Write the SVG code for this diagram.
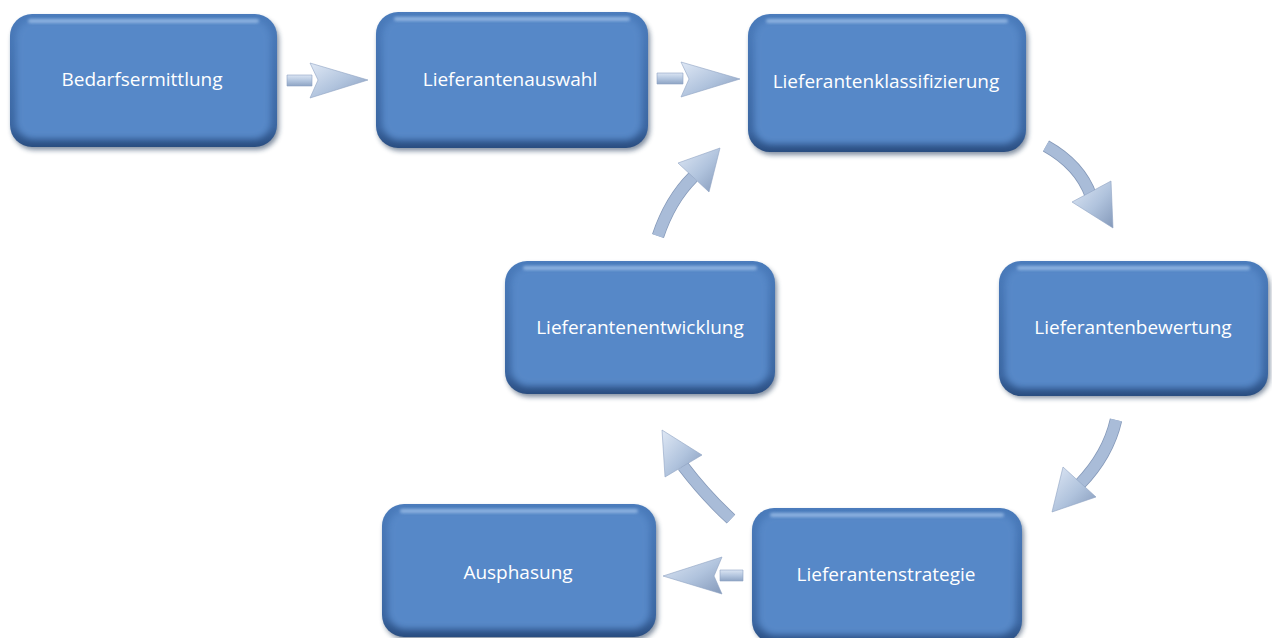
<svg xmlns="http://www.w3.org/2000/svg" width="1272" height="638" viewBox="0 0 1272 638">
<defs>
<filter id="sh" x="-10%" y="-10%" width="120%" height="130%"><feGaussianBlur stdDeviation="2.5"/></filter>
<filter id="bl" x="-10%" y="-10%" width="120%" height="120%"><feGaussianBlur stdDeviation="3"/></filter>
<filter id="hl" x="-10%" y="-50%" width="120%" height="200%"><feGaussianBlur stdDeviation="1.5"/></filter>
<linearGradient id="rim" x1="0" y1="0" x2="0" y2="1">
<stop offset="0" stop-color="#4a7bbb"/><stop offset="0.85" stop-color="#3a65a0"/><stop offset="1" stop-color="#2a4d80"/>
</linearGradient>
<linearGradient id="ag" x1="0" y1="0" x2="0" y2="1">
<stop offset="0" stop-color="#dbe5f3"/><stop offset="0.5" stop-color="#b4c6df"/><stop offset="1" stop-color="#8ea4c4"/>
</linearGradient>
<linearGradient id="ah" x1="0" y1="0" x2="1" y2="1">
<stop offset="0" stop-color="#dfe8f5"/><stop offset="0.55" stop-color="#b0c3dd"/><stop offset="1" stop-color="#8499ba"/>
</linearGradient>
<style>
.sh{fill:#1f3656;opacity:.55;filter:url(#sh)}
.rim{fill:url(#rim)}
.in{fill:#5688c8;filter:url(#bl)}
.hl{fill:#a9c8ee;opacity:.7;filter:url(#hl)}
.t{font-family:"Open Sans","Liberation Sans",sans-serif;font-size:19px;fill:#ffffff;text-anchor:middle}
.ar{fill:url(#ag);stroke:#8ea3c2;stroke-width:.6}
.ah{fill:url(#ah);stroke:#8ea3c2;stroke-width:.6}
.sf{fill:none;stroke:#a9bcd8;stroke-width:11;stroke-linecap:butt}
.sfe{fill:none;stroke:#8599b9;stroke-width:12.5;stroke-linecap:butt}
</style>
</defs>
<rect width="1272" height="638" fill="#ffffff"/>

<g id="n1">
<rect class="sh" x="12" y="18" width="267" height="132" rx="22"/>
<rect class="rim" x="10" y="14" width="267" height="133" rx="22"/>
<rect class="in" x="16" y="20" width="255" height="119" rx="18"/>
<rect class="hl" x="28" y="19" width="231" height="4" rx="2"/>
<text class="t" x="142" y="86">Bedarfsermittlung</text>
</g>
<g id="n2">
<rect class="sh" x="378" y="16" width="272" height="135" rx="22"/>
<rect class="rim" x="376" y="12" width="272" height="136" rx="22"/>
<rect class="in" x="382" y="18" width="260" height="122" rx="18"/>
<rect class="hl" x="394" y="17" width="236" height="4" rx="2"/>
<text class="t" x="510" y="86">Lieferantenauswahl</text>
</g>
<g id="n3">
<rect class="sh" x="750" y="18" width="278" height="137" rx="22"/>
<rect class="rim" x="748" y="14" width="278" height="138" rx="22"/>
<rect class="in" x="754" y="20" width="266" height="124" rx="18"/>
<rect class="hl" x="766" y="19" width="242" height="4" rx="2"/>
<text class="t" x="886" y="88">Lieferantenklassifizierung</text>
</g>
<g id="n4">
<rect class="sh" x="1001" y="265" width="269" height="133" rx="22"/>
<rect class="rim" x="999" y="261" width="269" height="135" rx="22"/>
<rect class="in" x="1005" y="267" width="257" height="121" rx="18"/>
<rect class="hl" x="1017" y="266" width="233" height="4" rx="2"/>
<text class="t" x="1133" y="334">Lieferantenbewertung</text>
</g>
<g id="n5">
<rect class="sh" x="507" y="265" width="270" height="132" rx="22"/>
<rect class="rim" x="505" y="261" width="270" height="133" rx="22"/>
<rect class="in" x="511" y="267" width="258" height="119" rx="18"/>
<rect class="hl" x="523" y="266" width="234" height="4" rx="2"/>
<text class="t" x="640" y="334">Lieferantenentwicklung</text>
</g>
<g id="n6">
<rect class="sh" x="754" y="512" width="270" height="132" rx="22"/>
<rect class="rim" x="752" y="508" width="270" height="135" rx="22"/>
<rect class="in" x="758" y="514" width="258" height="121" rx="18"/>
<rect class="hl" x="770" y="513" width="234" height="4" rx="2"/>
<text class="t" x="886" y="581">Lieferantenstrategie</text>
</g>
<g id="n7">
<rect class="sh" x="384" y="508" width="274" height="132" rx="22"/>
<rect class="rim" x="382" y="504" width="274" height="133" rx="22"/>
<rect class="in" x="388" y="510" width="262" height="119" rx="18"/>
<rect class="hl" x="400" y="509" width="238" height="4" rx="2"/>
<text class="t" x="518" y="579">Ausphasung</text>
</g>

<g id="connectors">
<polygon class="ar" points="287,75 312,75 312,86 287,86"/>
<polygon class="ah" points="310,63 368,80 310,98 318,80"/>
<polygon class="ar" points="657,73 683,73 683,84 657,84"/>
<polygon class="ah" points="681,62 740,79 681,97 689,79"/>
<polygon class="ar" points="743,570 720,570 720,581 743,581"/>
<polygon class="ah" points="722,557 663,576 722,594 714,576"/>
<path class="sfe" d="M1046,146 Q1080,165 1091,196"/>
<path class="sf" d="M1046,146 Q1080,165 1091,196"/>
<polygon class="ah" points="1072,202 1111,181 1113,228"/>
<path class="sfe" d="M1116,420 Q1108,455 1080,484"/>
<path class="sf" d="M1116,420 Q1108,455 1080,484"/>
<polygon class="ah" points="1063,467 1096,497 1052,512"/>
<path class="sfe" d="M731,519 Q705,495 683,466"/>
<path class="sf" d="M731,519 Q705,495 683,466"/>
<polygon class="ah" points="665,477 702,455 662,430"/>
<path class="sfe" d="M658,236 Q670,200 693,177"/>
<path class="sf" d="M658,236 Q670,200 693,177"/>
<polygon class="ah" points="678,163 709,192 720,148"/>
</g>
</svg>
